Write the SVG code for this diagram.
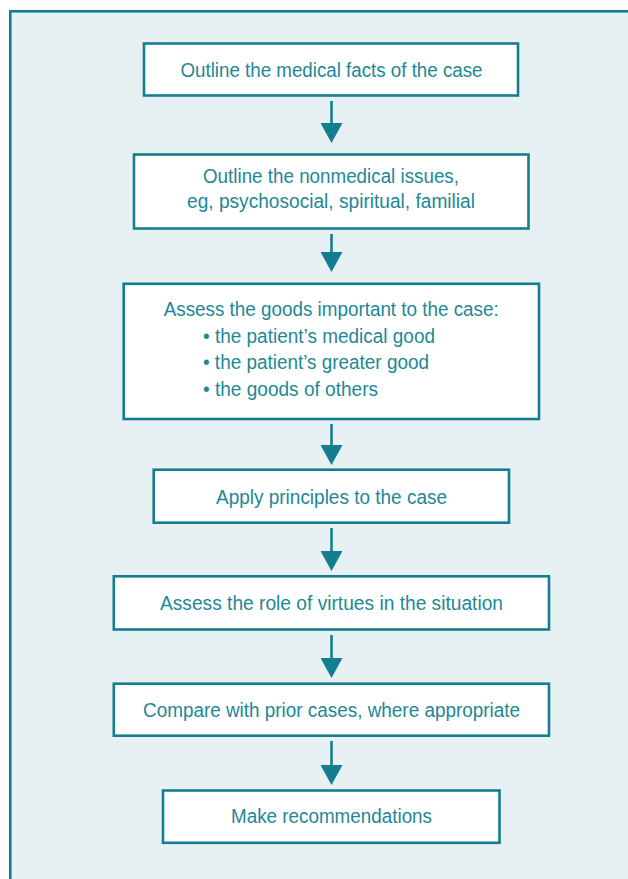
<svg xmlns="http://www.w3.org/2000/svg" width="628" height="879" viewBox="0 0 628 879">
  <style>
    .box { fill: #ffffff; stroke: #137f8e; stroke-width: 2.6; }
    .t { font-family: "Liberation Sans", Arial, sans-serif; font-size: 19.5px; fill: #1e8896; }
    .c { text-anchor: middle; }
    .conn line { stroke: #137f8e; stroke-width: 2.6; }
  </style>
  <defs>
    <marker id="ah" viewBox="0 0 20 22" refX="2" refY="11" markerWidth="20" markerHeight="22" markerUnits="userSpaceOnUse" orient="auto">
      <path d="M0,0 L20,11 L0,22 Z" fill="#137f8e"/>
    </marker>
  </defs>
  <rect x="0" y="0" width="628" height="879" fill="#ffffff"/>
  <rect x="10.3" y="11.3" width="660" height="900" fill="#e7f0f2" stroke="#137f8e" stroke-width="2.6"/>

  <g id="connectors" class="conn">
    <line x1="331.5" y1="101" x2="331.5" y2="125" marker-end="url(#ah)"/>
    <line x1="331.5" y1="234" x2="331.5" y2="254" marker-end="url(#ah)"/>
    <line x1="331.5" y1="424" x2="331.5" y2="447" marker-end="url(#ah)"/>
    <line x1="331.5" y1="528" x2="331.5" y2="553" marker-end="url(#ah)"/>
    <line x1="331.5" y1="635" x2="331.5" y2="660" marker-end="url(#ah)"/>
    <line x1="331.5" y1="741" x2="331.5" y2="767" marker-end="url(#ah)"/>
  </g>

  <g id="n1">
    <rect class="box" x="144" y="43.5" width="374" height="52"/>
    <text class="t c" x="331.5" y="77" textLength="302" lengthAdjust="spacingAndGlyphs">Outline the medical facts of the case</text>
  </g>
  <g id="n2">
    <rect class="box" x="134" y="154.5" width="394.5" height="74"/>
    <text class="t c" x="331" y="183" textLength="256" lengthAdjust="spacingAndGlyphs">Outline the nonmedical issues,</text>
    <text class="t c" x="331" y="208" textLength="288" lengthAdjust="spacingAndGlyphs">eg, psychosocial, spiritual, familial</text>
  </g>
  <g id="n3">
    <rect class="box" x="123.7" y="283.8" width="415.3" height="135.2"/>
    <text class="t c" x="331.2" y="315.5" textLength="335" lengthAdjust="spacingAndGlyphs">Assess the goods important to the case:</text>
    <text class="t" x="203" y="342.5" textLength="232" lengthAdjust="spacingAndGlyphs">• the patient’s medical good</text>
    <text class="t" x="203" y="369" textLength="226" lengthAdjust="spacingAndGlyphs">• the patient’s greater good</text>
    <text class="t" x="203" y="395.5" textLength="175" lengthAdjust="spacingAndGlyphs">• the goods of others</text>
  </g>
  <g id="n4">
    <rect class="box" x="153.7" y="469.7" width="355.3" height="53"/>
    <text class="t c" x="331.5" y="503.5" textLength="231" lengthAdjust="spacingAndGlyphs">Apply principles to the case</text>
  </g>
  <g id="n5">
    <rect class="box" x="113.8" y="576.3" width="435.2" height="53.2"/>
    <text class="t c" x="331.5" y="609.5" textLength="343" lengthAdjust="spacingAndGlyphs">Assess the role of virtues in the situation</text>
  </g>
  <g id="n6">
    <rect class="box" x="113.8" y="683.7" width="435.2" height="52"/>
    <text class="t c" x="331.5" y="716.5" textLength="377" lengthAdjust="spacingAndGlyphs">Compare with prior cases, where appropriate</text>
  </g>
  <g id="n7">
    <rect class="box" x="163" y="790.5" width="336.5" height="52.3"/>
    <text class="t c" x="331.5" y="823" textLength="201" lengthAdjust="spacingAndGlyphs">Make recommendations</text>
  </g>
</svg>
